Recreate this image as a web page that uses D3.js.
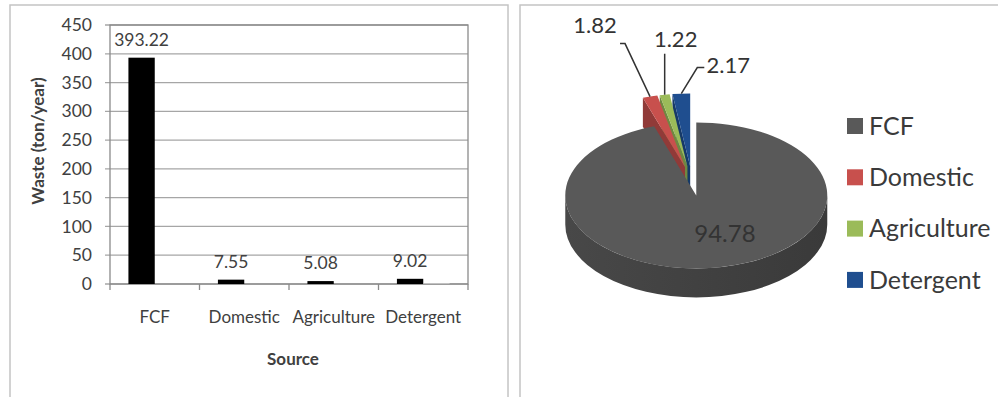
<!DOCTYPE html>
<html>
<head>
    <meta charset="utf-8">
    <title>waste by source</title>
    <script type="text/javascript" src="https://cdnjs.cloudflare.com/ajax/libs/d3/7.8.5/d3.min.js"></script>
    <style>
        body { margin: 0; background: #fff; }
        text { font-family: Lato, "Open Sans", sans-serif; fill: #404040; }
    </style>
</head>
<body>

<div id="graphDiv"></div>

<script>

var categories = ["FCF", "Domestic", "Agriculture", "Detergent"],
    wasteTon = [393.22, 7.55, 5.08, 9.02],
    // faint second series, only the detergent one shows
    otherTon = [0, 0, 0, 1.5],
    sharePct = [94.78, 1.82, 1.22, 2.17],
    yTicks = [0, 50, 100, 150, 200, 250, 300, 350, 400, 450],
    pieColors = ["#595959", "#c8504d", "#9bbb59", "#1f4e8f"];

var width = 998,
    height = 397,
    plot = { left: 110, right: 468, top: 25, bottom: 284 };

var svg = d3.select('#graphDiv').append('svg')
    .attr('width', width)
    .attr('height', height);

// panel frames
svg.append("rect")
    .attr("x", 10).attr("y", 5)
    .attr("width", 498).attr("height", 400)
    .style("fill", "none")
    .style("stroke", "#c4c4c4")
    .style("stroke-width", "1.5px");

svg.append("rect")
    .attr("x", 520).attr("y", 5)
    .attr("width", 490).attr("height", 400)
    .style("fill", "none")
    .style("stroke", "#c4c4c4")
    .style("stroke-width", "1.5px");

// ---------- bar chart ----------
function drawBars() {
    var y = d3.scaleLinear().domain([0, 450]).range([plot.bottom, plot.top]);
    var x0 = d3.scaleBand().domain(categories).range([plot.left, plot.right]);
    var x1 = d3.scaleBand().domain(["waste", "other"])
        .range([0, x0.bandwidth()])
        .paddingInner(0)
        .paddingOuter(0.7);

    var g = svg.append("g");

    // gridlines
    g.selectAll(".grid")
        .data(yTicks)
        .enter().append("line")
        .attr("x1", plot.left - 5)
        .attr("x2", plot.right)
        .attr("y1", function(d) { return y(d); })
        .attr("y2", function(d) { return y(d); })
        .style("stroke", "#a6a6a6")
        .style("stroke-width", "1.3px");

    // plot box
    g.append("rect")
        .attr("x", plot.left).attr("y", plot.top)
        .attr("width", plot.right - plot.left)
        .attr("height", plot.bottom - plot.top)
        .style("fill", "none")
        .style("stroke", "#8a8a8a")
        .style("stroke-width", "1.3px");

    // y axis labels
    var yAxis = d3.axisLeft(y).tickValues(yTicks).tickSize(5).tickSizeOuter(0).tickPadding(13);
    var ya = g.append("g")
        .attr("transform", "translate(" + plot.left + ",0)")
        .call(yAxis);
    ya.select(".domain").remove();
    ya.selectAll("line").remove();
    ya.selectAll("text")
        .style("font-size", "17.5px")
        .style("font-family", "Lato, sans-serif")
        .style("fill", "#404040");

    // x axis labels
    var xAxis = d3.axisBottom(x0).tickSize(0).tickPadding(27);
    var xa = g.append("g")
        .attr("transform", "translate(0," + plot.bottom + ")")
        .call(xAxis);
    xa.select(".domain").remove();
    xa.selectAll("text")
        .style("font-size", "17px")
        .style("font-family", "Lato, sans-serif")
        .style("fill", "#404040");

    // category boundary ticks
    var bounds = categories.map(function(c) { return x0(c); }).concat([x0.range()[1]]);
    g.selectAll(".xtick")
        .data(bounds)
        .enter().append("line")
        .attr("x1", function(d) { return d; })
        .attr("x2", function(d) { return d; })
        .attr("y1", plot.bottom)
        .attr("y2", plot.bottom + 6)
        .style("stroke", "#8a8a8a")
        .style("stroke-width", "1.3px");

    // bars
    g.selectAll(".bar")
        .data(wasteTon)
        .enter().append("rect")
        .attr("x", function(d, i) { return x0(categories[i]) + x1("waste"); })
        .attr("width", x1.bandwidth())
        .attr("y", function(d) { return y(d); })
        .attr("height", function(d) { return y(0) - y(d); })
        .style("fill", "#000");

    g.selectAll(".bar2")
        .data(otherTon)
        .enter().append("rect")
        .attr("x", function(d, i) { return x0(categories[i]) + x1("other"); })
        .attr("width", x1.bandwidth())
        .attr("y", function(d) { return y(d); })
        .attr("height", function(d) { return y(0) - y(d); })
        .style("fill", "#c8c8c8");

    // value labels
    g.selectAll(".val")
        .data(wasteTon)
        .enter().append("text")
        .attr("x", function(d, i) { return x0(categories[i]) + x1("waste") + x1.bandwidth() / 2; })
        .attr("y", function(d) { return y(d) - 12; })
        .attr("text-anchor", "middle")
        .style("font-size", "17.5px")
        .text(function(d) { return d.toFixed(2); });

    // axis titles
    g.append("text")
        .attr("x", 293).attr("y", 365)
        .attr("text-anchor", "middle")
        .style("font-size", "17px")
        .style("font-weight", "bold")
        .text("Source");

    g.append("text")
        .attr("transform", "translate(44,141) rotate(-90)")
        .attr("text-anchor", "middle")
        .style("font-size", "17px")
        .style("font-weight", "bold")
        .text("Waste (ton/year)");
}

// ---------- 3d pie ----------
var pieCx = 692, pieCy = 181, rx = 131, ry = 73, depth = 29, explode = 0.2;

// label placement: offset from anchor, and leader bends relative to label
var labelOffset = [[18, 2], [-55, -71], [11, -55], [47, -28]],
    labelSize = [24, 22, 22, 22],
    leaderPts = [null, [[30, 18], [25, 18]], [[-11, 14]], [[-31, 2], [-24, 2]]];

function drawPie() {
    var arcs = d3.pie().sort(null).value(function(d) { return d; })(sharePct);
    var defs = svg.append("defs");
    var g = svg.append("g");

    arcs.forEach(function(a, i) {
        var mid = (a.startAngle + a.endAngle) / 2;
        a.cx = pieCx + explode * rx * Math.sin(mid);
        a.cy = pieCy - explode * ry * Math.cos(mid);
        a.mid = mid;
        a.color = pieColors[i];
        a.idx = i;

        var grad = defs.append("linearGradient")
            .attr("id", "side" + i)
            .attr("x1", "0%").attr("x2", "100%");
        grad.append("stop").attr("offset", "0%")
            .attr("stop-color", d3.color(a.color).darker(0.6));
        grad.append("stop").attr("offset", "100%")
            .attr("stop-color", d3.color(a.color).darker(1.2));
    });

    function pt(a, ang, r) {
        return [a.cx + rx * r * Math.sin(ang), a.cy - ry * r * Math.cos(ang)];
    }

    // back slices first
    var order = arcs.slice().sort(function(p, q) { return p.cy - q.cy; });

    order.forEach(function(a) {
        var fill = "url(#side" + a.idx + ")";

        // radial walls facing the viewer
        [[a.startAngle, Math.sin(a.startAngle) < -1e-6],
         [a.endAngle, Math.sin(a.endAngle) > 1e-6]].forEach(function(w) {
            if (!w[1]) return;
            var p = pt(a, w[0], 1);
            g.append("path")
                .attr("d", "M" + a.cx + "," + a.cy + "L" + p[0] + "," + p[1] +
                    "L" + p[0] + "," + (p[1] + depth) + "L" + a.cx + "," + (a.cy + depth) + "Z")
                .style("fill", d3.color(a.color).darker(0.9));
        });

        // outer curved wall on the front half
        var s = Math.max(a.startAngle, Math.PI / 2),
            e = Math.min(a.endAngle, 3 * Math.PI / 2);
        if (e > s) {
            var p0 = pt(a, s, 1), p1 = pt(a, e, 1),
                large = (e - s) > Math.PI ? 1 : 0;
            g.append("path")
                .attr("d", "M" + p0[0] + "," + p0[1] +
                    "A" + rx + "," + ry + " 0 " + large + " 1 " + p1[0] + "," + p1[1] +
                    "L" + p1[0] + "," + (p1[1] + depth) +
                    "A" + rx + "," + ry + " 0 " + large + " 0 " + p0[0] + "," + (p0[1] + depth) + "Z")
                .style("fill", fill);
        }

        // top face
        g.append("path")
            .attr("transform", "translate(" + a.cx + "," + a.cy + ") scale(1," + (ry / rx) + ")")
            .attr("d", d3.arc().innerRadius(0).outerRadius(rx)(a))
            .style("fill", a.color);
    });

    // labels
    arcs.forEach(function(a, i) {
        var anchor = leaderPts[i] ? pt(a, a.mid, 1) : pt(a, a.mid, 0.5);
        var lx = anchor[0] + labelOffset[i][0],
            ly = anchor[1] + labelOffset[i][1];

        if (leaderPts[i]) {
            var line = [anchor].concat(leaderPts[i].map(function(p) { return [lx + p[0], ly + p[1]]; }));
            g.append("path")
                .attr("d", d3.line()(line))
                .style("fill", "none")
                .style("stroke", "#333")
                .style("stroke-width", "1.5px");
        }

        g.append("text")
            .attr("x", lx).attr("y", ly)
            .attr("dy", "0.35em")
            .attr("text-anchor", "middle")
            .style("font-size", labelSize[i] + "px")
            .style("fill", "#333")
            .text(sharePct[i].toFixed(2));
    });

    // legend
    var leg = g.selectAll(".leg")
        .data(categories)
        .enter().append("g")
        .attr("transform", function(d, i) { return "translate(847," + (126 + i * 51.3) + ")"; });

    leg.append("rect")
        .attr("x", 0).attr("y", -8)
        .attr("width", 16).attr("height", 16)
        .style("fill", function(d, i) { return pieColors[i]; });

    leg.append("text")
        .attr("x", 22).attr("y", 0)
        .attr("dy", "0.35em")
        .style("font-size", "25px")
        .style("fill", "#3a3a3a")
        .text(function(d) { return d; });
}

drawBars();
drawPie();

</script>

</body>
</html>
